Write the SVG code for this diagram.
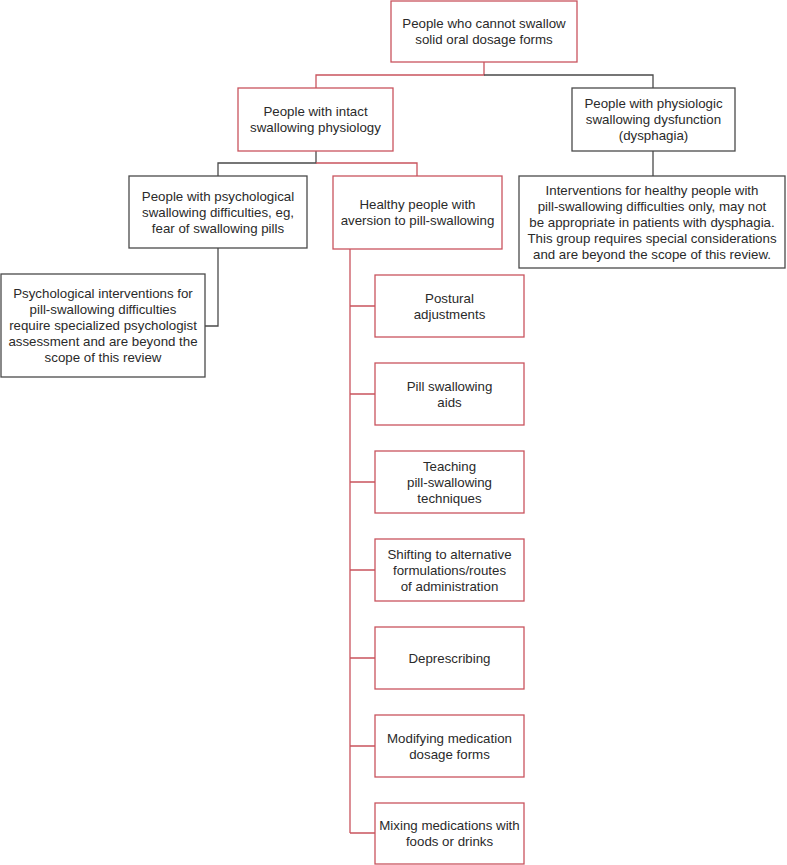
<svg xmlns="http://www.w3.org/2000/svg" width="787" height="865" viewBox="0 0 787 865">
<style>
.bg{fill:#ffffff}
.r{fill:#ffffff;stroke:#c9545e;stroke-width:1.3}
.g{fill:#ffffff;stroke:#4a4a4a;stroke-width:1.3}
.lr{fill:none;stroke:#c9545e;stroke-width:1.3}
.lg{fill:none;stroke:#4a4a4a;stroke-width:1.3}
text{font-family:"Liberation Sans",Arial,sans-serif;font-size:13.3px;fill:#2a2a2a;text-anchor:middle}
</style>
<rect class="bg" x="0" y="0" width="787" height="865"/>
<g id="connectors">
<path class="lr" d="M484,62V75H316V88"/>
<path class="lg" d="M484,75H653V88"/>
<path class="lg" d="M316,151V163H218V176"/>
<path class="lr" d="M316,163H417V176"/>
<path class="lg" d="M218,248V326H205"/>
<path class="lg" d="M653,151V176"/>
<path class="lr" d="M350,249V833M350,306H375M350,394H375M350,482H375M350,570H375M350,658H375M350,746H375M350,833H375"/>
</g>
<g id="root"><rect class="r" x="391" y="1" width="186" height="61"/>
<text x="484" y="28">People who cannot swallow</text><text x="484" y="44">solid oral dosage forms</text></g>
<g id="intact"><rect class="r" x="238" y="88" width="155" height="63"/>
<text x="315.5" y="116">People with intact</text><text x="315.5" y="132">swallowing physiology</text></g>
<g id="dysphagia"><rect class="g" x="572" y="88" width="163" height="63"/>
<text x="653.5" y="108">People with physiologic</text><text x="653.5" y="124">swallowing dysfunction</text><text x="653.5" y="140">(dysphagia)</text></g>
<g id="psych"><rect class="g" x="129" y="176" width="178" height="72"/>
<text x="218" y="200.5">People with psychological</text><text x="218" y="216.5">swallowing difficulties, eg,</text><text x="218" y="232.5">fear of swallowing pills</text></g>
<g id="healthy"><rect class="r" x="333" y="176" width="169" height="73"/>
<text x="417.5" y="209">Healthy people with</text><text x="417.5" y="225">aversion to pill-swallowing</text></g>
<g id="psych-result"><rect class="g" x="1" y="274" width="204" height="103"/>
<text x="103" y="298">Psychological interventions for</text><text x="103" y="314">pill-swallowing difficulties</text><text x="103" y="330">require specialized psychologist</text><text x="103" y="346">assessment and are beyond the</text><text x="103" y="362">scope of this review</text></g>
<g id="dysphagia-result"><rect class="g" x="519" y="176" width="266" height="92"/>
<text x="652" y="194.5">Interventions for healthy people with</text><text x="652" y="210.5">pill-swallowing difficulties only, may not</text><text x="652" y="226.5">be appropriate in patients with dysphagia.</text><text x="652" y="242.5">This group requires special considerations</text><text x="652" y="258.5">and are beyond the scope of this review.</text></g>
<g id="postural"><rect class="r" x="375" y="275" width="149" height="62"/>
<text x="449.5" y="302.5">Postural</text><text x="449.5" y="318.5">adjustments</text></g>
<g id="aids"><rect class="r" x="375" y="363" width="149" height="62"/>
<text x="449.5" y="390.5">Pill swallowing</text><text x="449.5" y="406.5">aids</text></g>
<g id="teaching"><rect class="r" x="375" y="451" width="149" height="62"/>
<text x="449.5" y="470.5">Teaching</text><text x="449.5" y="486.5">pill-swallowing</text><text x="449.5" y="502.5">techniques</text></g>
<g id="shifting"><rect class="r" x="375" y="539" width="149" height="62"/>
<text x="449.5" y="558.5">Shifting to alternative</text><text x="449.5" y="574.5">formulations/routes</text><text x="449.5" y="590.5">of administration</text></g>
<g id="deprescribing"><rect class="r" x="375" y="627" width="149" height="62"/>
<text x="449.5" y="662.5">Deprescribing</text></g>
<g id="modifying"><rect class="r" x="375" y="715" width="149" height="62"/>
<text x="449.5" y="742.5">Modifying medication</text><text x="449.5" y="758.5">dosage forms</text></g>
<g id="mixing"><rect class="r" x="375" y="803" width="149" height="61"/>
<text x="449.5" y="830">Mixing medications with</text><text x="449.5" y="846">foods or drinks</text></g>
</svg>
